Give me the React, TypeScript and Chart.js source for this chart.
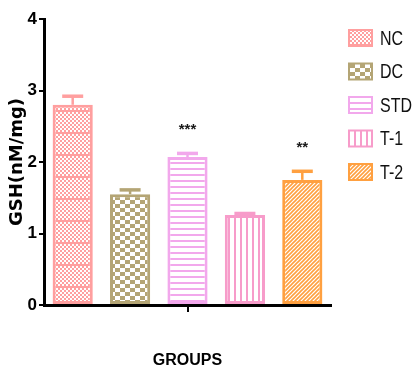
import React, { useEffect, useRef } from "react";
import { Chart, registerables } from "chart.js";

Chart.register(...registerables);

// Group means and SEM of GSH (nM/mg)
const groups = ["NC", "DC", "STD", "T-1", "T-2"];
const gshMeans = [2.8, 1.55, 2.07, 1.26, 1.75];
const gshSem = [0.12, 0.06, 0.05, 0.02, 0.12];
const significance = ["", "", "***", "", "**"];
const yTickValues = [0, 1, 2, 3, 4];

const groupColors = ["#ff9f9f", "#b4a575", "#f2a8ec", "#f79cca", "#ffa040"];
const fillKinds = ["fineCheck", "check", "hlines", "vlines", "diag"];

const SANS = "'Liberation Sans', Arial, sans-serif";

function makePattern(kind: string, color: string): CanvasPattern | string {
  const c = document.createElement("canvas");
  const g = c.getContext("2d");
  if (!g) return color;
  const set = (w: number, h: number) => {
    c.width = w;
    c.height = h;
    g.fillStyle = "#ffffff";
    g.fillRect(0, 0, w, h);
    g.fillStyle = color;
    g.strokeStyle = color;
  };
  switch (kind) {
    case "fineCheck": {
      set(4, 22);
      for (let r = 0; r < 11; r++) {
        for (let col = 0; col < 2; col++) {
          if ((r + col) % 2 === 0) g.fillRect(col * 2, r * 2, 2, 2);
        }
      }
      g.fillRect(0, 0, 4, 2);
      break;
    }
    case "check": {
      set(10, 8);
      g.fillRect(0, 0, 5, 4);
      g.fillRect(5, 4, 5, 4);
      break;
    }
    case "hlines": {
      set(1, 6);
      g.fillRect(0, 0, 1, 2);
      break;
    }
    case "vlines": {
      set(6, 1);
      g.fillRect(0, 0, 2, 1);
      break;
    }
    case "diag": {
      set(4, 4);
      g.lineWidth = 1.6;
      g.beginPath();
      g.moveTo(-1, 5);
      g.lineTo(5, -1);
      g.moveTo(-1, 1);
      g.lineTo(1, -1);
      g.moveTo(3, 5);
      g.lineTo(5, 3);
      g.stroke();
      break;
    }
  }
  return g.createPattern(c, "repeat") || color;
}

export default function App() {
  const canvasRef = useRef<HTMLCanvasElement | null>(null);

  useEffect(() => {
    const canvas = canvasRef.current;
    if (!canvas) return;
    const fills = groups.map((_, i) => makePattern(fillKinds[i], groupColors[i]));

    // Error bars with caps, plus significance stars above them
    const errorBars = {
      id: "errorBars",
      afterDatasetsDraw(chart: any) {
        const ctx = chart.ctx;
        const meta = chart.getDatasetMeta(0);
        const yScale = chart.scales.y;
        meta.data.forEach((bar: any, i: number) => {
          const x = bar.x;
          const yTop = yScale.getPixelForValue(gshMeans[i] + gshSem[i]);
          ctx.save();
          ctx.strokeStyle = groupColors[i];
          ctx.lineWidth = 2.5;
          ctx.beginPath();
          ctx.moveTo(x, bar.y);
          ctx.lineTo(x, yTop);
          ctx.stroke();
          ctx.lineWidth = 3.5;
          ctx.beginPath();
          ctx.moveTo(x - 10.5, yTop);
          ctx.lineTo(x + 10.5, yTop);
          ctx.stroke();
          if (significance[i]) {
            ctx.fillStyle = "#1a1a1a";
            ctx.font = `bold 15px ${SANS}`;
            ctx.textAlign = "center";
            ctx.textBaseline = "alphabetic";
            ctx.fillText(significance[i], x, yTop - 19);
          }
          ctx.restore();
        });
      },
    };

    // Legend column on the right, with condensed labels
    const groupLegend = {
      id: "groupLegend",
      afterDraw(chart: any) {
        const ctx = chart.ctx;
        groups.forEach((name, i) => {
          const cy = 38 + i * 33.5;
          ctx.save();
          ctx.fillStyle = fills[i];
          ctx.fillRect(349, cy - 8, 23, 16);
          ctx.strokeStyle = groupColors[i];
          ctx.lineWidth = 2;
          ctx.strokeRect(349, cy - 8, 23, 16);
          ctx.translate(380, cy + 1);
          ctx.scale(0.8, 1);
          ctx.fillStyle = "#111111";
          ctx.font = `20px ${SANS}`;
          ctx.textAlign = "left";
          ctx.textBaseline = "middle";
          ctx.fillText(name, 0, 0);
          ctx.restore();
        });
      },
    };

    const chart = new Chart(canvas, {
      type: "bar",
      data: {
        labels: groups,
        datasets: [
          {
            label: "GSH",
            data: gshMeans,
            backgroundColor: fills as any,
            borderColor: groupColors,
            borderWidth: 3,
            borderSkipped: false,
            barPercentage: 0.7,
            categoryPercentage: 1,
          },
        ],
      },
      options: {
        responsive: false,
        animation: false,
        layout: { padding: { top: 19, right: 83, left: 0, bottom: 0 } },
        plugins: {
          legend: { display: false },
          tooltip: { enabled: false },
        },
        scales: {
          x: {
            type: "category",
            offset: true,
            grid: {
              offset: false,
              drawOnChartArea: false,
              drawTicks: true,
              tickLength: 7,
              lineWidth: 2,
              color: (c: any) => (c.index === 2 ? "#000000" : "rgba(0,0,0,0)"),
            },
            border: { display: true, color: "#000000", width: 3 },
            ticks: { display: false },
            title: {
              display: true,
              text: "GROUPS",
              color: "#000000",
              font: { family: SANS, weight: "bold", size: 16 },
              padding: { top: 0, bottom: 4 },
            },
            afterFit: (s: any) => {
              s.height = 69;
            },
          },
          y: {
            min: 0,
            max: 4,
            afterBuildTicks: (s: any) => {
              s.ticks = yTickValues.map((v) => ({ value: v }));
            },
            ticks: {
              color: "#000000",
              padding: 2,
              font: { family: SANS, weight: "bold", size: 17 },
            },
            grid: {
              drawOnChartArea: false,
              drawTicks: true,
              tickLength: 5,
              lineWidth: 2,
              color: "#000000",
            },
            border: { display: true, color: "#000000", width: 3 },
            title: {
              display: true,
              text: "GSH(nM/mg)",
              color: "#000000",
              font: { family: "'DejaVu Sans', sans-serif", weight: "bold", size: 18 },
              padding: { top: 7, bottom: 0 },
            },
            afterFit: (s: any) => {
              s.width = 44;
            },
          },
        },
      },
      plugins: [errorBars, groupLegend],
    });

    return () => chart.destroy();
  }, []);

  return (
    <div style={{ position: "fixed", left: 0, top: 0, width: 414, height: 374, background: "#ffffff" }}>
      <canvas ref={canvasRef} width={414} height={374} />
    </div>
  );
}
